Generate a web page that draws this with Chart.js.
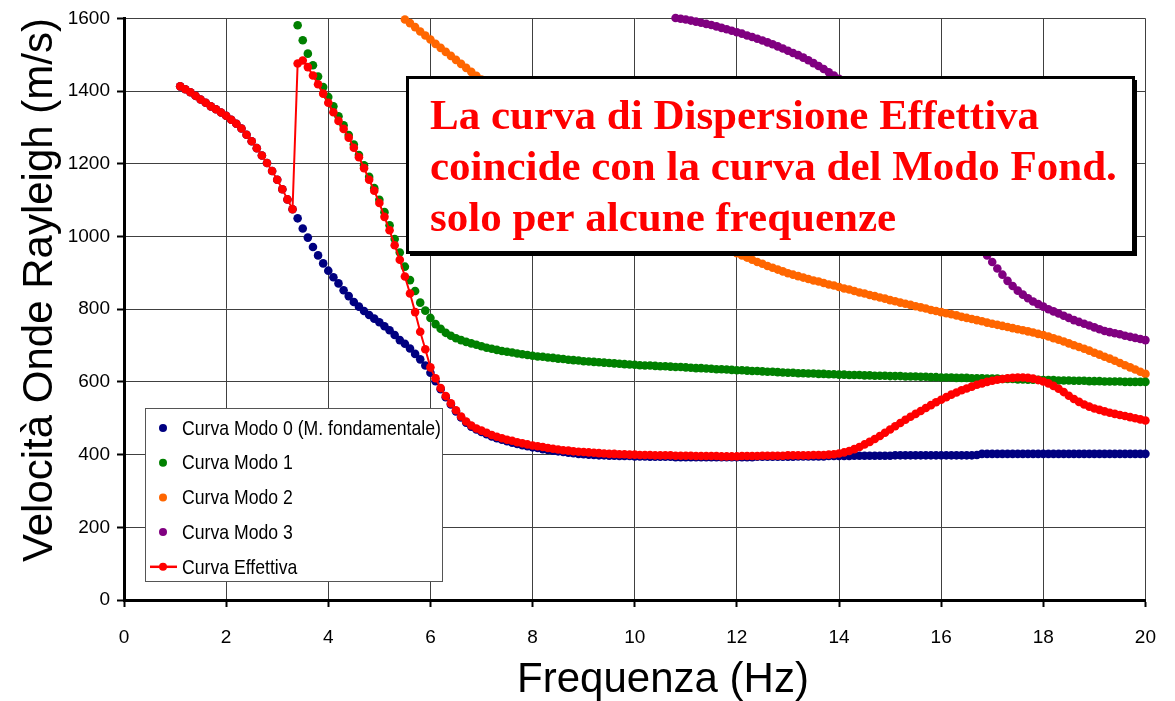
<!DOCTYPE html>
<html lang="it">
<head>
    <meta charset="UTF-8">
    <title>Curve di dispersione</title>
    <script src="https://cdn.jsdelivr.net/npm/chart.js"></script>
    <style>
        html, body { margin: 0; padding: 0; background: #fff; }
        #wrap { width: 1175px; height: 701px; }
    </style>
</head>
<body>
    <div id="wrap"><canvas id="dispChart" width="1175" height="701"></canvas></div>

    <script>
        // frequenze (Hz), passo 0.1
        const freq = [
            1.1, 1.2, 1.3, 1.4, 1.5, 1.6, 1.7, 1.8, 1.9, 2.0,
            2.1, 2.2, 2.3, 2.4, 2.5, 2.6, 2.7, 2.8, 2.9, 3.0,
            3.1, 3.2, 3.3, 3.4, 3.5, 3.6, 3.7, 3.8, 3.9, 4.0,
            4.1, 4.2, 4.3, 4.4, 4.5, 4.6, 4.7, 4.8, 4.9, 5.0,
            5.1, 5.2, 5.3, 5.4, 5.5, 5.6, 5.7, 5.8, 5.9, 6.0,
            6.1, 6.2, 6.3, 6.4, 6.5, 6.6, 6.7, 6.8, 6.9, 7.0,
            7.1, 7.2, 7.3, 7.4, 7.5, 7.6, 7.7, 7.8, 7.9, 8.0,
            8.1, 8.2, 8.3, 8.4, 8.5, 8.6, 8.7, 8.8, 8.9, 9.0,
            9.1, 9.2, 9.3, 9.4, 9.5, 9.6, 9.7, 9.8, 9.9, 10.0,
            10.1, 10.2, 10.3, 10.4, 10.5, 10.6, 10.7, 10.8, 10.9, 11.0,
            11.1, 11.2, 11.3, 11.4, 11.5, 11.6, 11.7, 11.8, 11.9, 12.0,
            12.1, 12.2, 12.3, 12.4, 12.5, 12.6, 12.7, 12.8, 12.9, 13.0,
            13.1, 13.2, 13.3, 13.4, 13.5, 13.6, 13.7, 13.8, 13.9, 14.0,
            14.1, 14.2, 14.3, 14.4, 14.5, 14.6, 14.7, 14.8, 14.9, 15.0,
            15.1, 15.2, 15.3, 15.4, 15.5, 15.6, 15.7, 15.8, 15.9, 16.0,
            16.1, 16.2, 16.3, 16.4, 16.5, 16.6, 16.7, 16.8, 16.9, 17.0,
            17.1, 17.2, 17.3, 17.4, 17.5, 17.6, 17.7, 17.8, 17.9, 18.0,
            18.1, 18.2, 18.3, 18.4, 18.5, 18.6, 18.7, 18.8, 18.9, 19.0,
            19.1, 19.2, 19.3, 19.4, 19.5, 19.6, 19.7, 19.8, 19.9, 20.0
        ];

        // Modo 0 (fondamentale), da 1.1 Hz
        const modo0 = [
            1413, 1405, 1397, 1387, 1377, 1368, 1358, 1350, 1341, 1332,
            1321, 1310, 1297, 1280, 1262, 1243, 1223, 1202, 1180, 1156,
            1130, 1102, 1075, 1050, 1022, 997, 971, 948, 926, 906,
            888, 871, 852, 836, 820, 807, 795, 784, 774, 764,
            753, 742, 729, 715, 705, 692, 677, 662, 645, 625,
            602, 580, 558, 538, 519, 502, 488, 477, 469, 462,
            456, 450, 445, 441, 437, 433, 429, 426, 423, 420,
            418, 415, 413, 411, 409, 407, 405, 404, 402, 401,
            400, 399, 398, 398, 397, 397, 396, 396, 396, 395,
            395, 395, 394, 394, 394, 394, 394, 393, 393, 393,
            393, 393, 393, 393, 393, 393, 393, 393, 393, 393,
            393, 393, 393, 394, 394, 394, 394, 394, 394, 394,
            394, 395, 395, 395, 395, 395, 395, 396, 396, 396,
            396, 396, 397, 397, 397, 397, 397, 397, 397, 397,
            398, 398, 398, 398, 398, 398, 398, 398, 398, 398,
            398, 398, 398, 398, 398, 398, 399, 402, 402, 402,
            402, 402, 402, 402, 402, 402, 402, 402, 402, 402,
            402, 402, 402, 402, 402, 402, 402, 402, 402, 402,
            402, 402, 402, 402, 402, 402, 402, 402, 402, 402
        ];

        // Modo 1, da 3.4 Hz
        const modo1 = [
            1581, 1540, 1503, 1471, 1440, 1411, 1384,
            1358, 1331, 1306, 1279, 1253, 1224, 1196, 1164, 1133, 1101,
            1067, 1031, 993, 956, 917, 880, 850, 818, 796, 776,
            759, 746, 735, 727, 720, 715, 710, 706, 702, 698,
            694, 691, 688, 685, 683, 681, 678, 676, 674, 672,
            670, 669, 667, 666, 664, 663, 661, 660, 659, 657,
            656, 655, 654, 653, 652, 651, 650, 649, 648, 647,
            646, 645, 645, 644, 643, 643, 642, 641, 641, 640,
            639, 638, 638, 637, 636, 635, 635, 634, 633, 632,
            632, 631, 630, 630, 629, 628, 628, 627, 626, 625,
            625, 624, 624, 623, 623, 622, 622, 621, 621, 620,
            620, 619, 619, 619, 618, 618, 617, 617, 617, 616,
            616, 616, 615, 615, 615, 614, 614, 613, 613, 612,
            612, 612, 611, 611, 611, 610, 610, 610, 609, 609,
            609, 608, 608, 608, 607, 607, 606, 606, 606, 605,
            605, 605, 604, 604, 604, 603, 603, 603, 602, 602,
            602, 601, 601, 601, 601, 600, 600, 600, 600, 600
        ];

        // Modo 2, da 5.5 Hz
        const modo2 = [
            1597, 1587, 1576, 1564, 1553, 1542,
            1530, 1519, 1508, 1497, 1486, 1475, 1464, 1453, 1442, 1432,
            1421, 1410, 1399, 1388, 1377, 1366, 1356, 1345, 1335, 1325,
            1314, 1304, 1293, 1283, 1273, 1263, 1253, 1243, 1232, 1222,
            1212, 1202, 1192, 1182, 1173, 1163, 1154, 1144, 1135, 1125,
            1116, 1107, 1098, 1089, 1080, 1071, 1062, 1053, 1044, 1035,
            1027, 1018, 1010, 1001, 993, 985, 977, 969, 962, 954,
            948, 942, 936, 930, 925, 919, 914, 909, 904, 899,
            895, 891, 887, 883, 879, 876, 872, 868, 865, 861,
            857, 854, 850, 846, 843, 839, 836, 832, 829, 825,
            822, 818, 815, 812, 808, 805, 802, 798, 795, 792,
            789, 786, 783, 779, 776, 773, 770, 767, 763, 760,
            757, 754, 751, 748, 745, 742, 739, 736, 732, 729,
            725, 720, 716, 711, 706, 701, 696, 691, 686, 680,
            675, 669, 664, 658, 652, 646, 640, 634, 628, 622
        ];

        // Modo 3, da 10.8 Hz
        const modo3 = [
            1601, 1599, 1597,
            1594, 1591, 1588, 1585, 1582, 1578, 1574, 1570, 1566, 1562,
            1558, 1553, 1549, 1544, 1539, 1534, 1529, 1523, 1517, 1511,
            1505, 1499, 1492, 1485, 1477, 1469, 1461, 1452, 1443, 1434,
            1424, 1414, 1404, 1393, 1382, 1370, 1358, 1346, 1333, 1320,
            1306, 1291, 1276, 1261, 1245, 1227, 1209, 1190, 1170, 1150,
            1129, 1108, 1087, 1066, 1045, 1022, 998, 972, 948, 930,
            912, 895, 878, 864, 851, 840, 830, 821, 814, 807,
            800, 794, 788, 782, 776, 770, 765, 760, 755, 750,
            745, 740, 737, 734, 731, 727, 724, 721, 718, 715
        ];

        // Curva effettiva, da 1.1 Hz
        const effettiva = [
            1413, 1405, 1397, 1387, 1377, 1368, 1358, 1350, 1341, 1332,
            1321, 1310, 1297, 1280, 1262, 1243, 1223, 1202, 1180, 1156,
            1130, 1102, 1075, 1476, 1484, 1466, 1443, 1419, 1393, 1368,
            1342, 1318, 1296, 1272, 1244, 1218, 1188, 1156, 1126, 1092,
            1054, 1017, 976, 936, 890, 843, 792, 738, 690, 640,
            610, 583, 561, 541, 522, 505, 491, 480, 472, 466,
            460, 454, 449, 445, 441, 438, 434, 431, 428, 425,
            423, 421, 418, 416, 414, 412, 411, 409, 408, 407,
            406, 405, 404, 403, 402, 402, 401, 401, 400, 400,
            399, 399, 399, 398, 398, 398, 398, 397, 397, 397,
            397, 396, 396, 396, 396, 396, 395, 395, 395, 395,
            396, 396, 396, 396, 397, 397, 397, 397, 397, 398,
            398, 398, 398, 398, 399, 399, 399, 400, 401, 403,
            406, 410, 415, 421, 428, 435, 443, 451, 460, 469,
            478, 487, 496, 504, 512, 520, 528, 536, 544, 551,
            558, 565, 571, 577, 582, 587, 592, 596, 600, 603,
            606, 608, 610, 611, 612, 612, 611, 609, 605, 601,
            596, 589, 581, 572, 562, 553, 545, 538, 532, 527,
            523, 519, 515, 512, 509, 506, 503, 500, 497, 494
        ];

        const seriesNames = ['Curva Modo 0 (M. fondamentale)', 'Curva Modo 1', 'Curva Modo 2', 'Curva Modo 3', 'Curva Effettiva'];
        const seriesColors = ['#000080', '#008000', '#FF6600', '#800080', '#FF0000'];
        const seriesStart = [1.1, 3.4, 5.5, 10.8, 1.1];
        const seriesValues = [modo0, modo1, modo2, modo3, effettiva];

        const noteLines = ['La curva di Dispersione Effettiva', 'coincide con la curva del Modo Fond.', 'solo per alcune frequenze'];

        const sans = '"Liberation Sans", Arial, sans-serif';

        function toPoints(values, start) {
            const i0 = freq.indexOf(start);
            return values.map((v, i) => ({ x: freq[i0 + i], y: v }));
        }

        const datasets = seriesValues.map((vals, k) => ({
            label: seriesNames[k],
            data: toPoints(vals, seriesStart[k]),
            showLine: k === 4,
            borderColor: seriesColors[k],
            backgroundColor: seriesColors[k],
            borderWidth: 2,
            pointRadius: 4.3,
            pointBorderWidth: 0,
            pointBackgroundColor: seriesColors[k],
            clip: false,
            order: k === 4 ? 0 : k + 1
        }));

        // legenda, riquadro di testo e titoli degli assi disegnati sul canvas
        const overlay = {
            id: 'overlay',
            afterDraw(chart) {
                const ctx = chart.ctx;
                ctx.save();

                // legenda (testo compresso come Arial Narrow)
                ctx.fillStyle = '#fff';
                ctx.fillRect(145, 408, 297, 173);
                ctx.strokeStyle = '#555';
                ctx.lineWidth = 1;
                ctx.strokeRect(145.5, 408.5, 297, 173);
                ctx.font = '21px ' + sans;
                ctx.textBaseline = 'middle';
                ctx.textAlign = 'left';
                seriesNames.forEach((name, k) => {
                    const y = 428 + k * 34.7;
                    if (k === 4) {
                        ctx.strokeStyle = seriesColors[k];
                        ctx.lineWidth = 2.5;
                        ctx.beginPath();
                        ctx.moveTo(150, y);
                        ctx.lineTo(177, y);
                        ctx.stroke();
                    }
                    ctx.fillStyle = seriesColors[k];
                    ctx.beginPath();
                    ctx.arc(163, y, 4, 0, Math.PI * 2);
                    ctx.fill();
                    ctx.fillStyle = '#000';
                    ctx.save();
                    ctx.translate(182, y + 1);
                    ctx.scale(0.84, 1);
                    ctx.fillText(name, 0, 0);
                    ctx.restore();
                });

                // riquadro note
                ctx.fillStyle = '#000';
                ctx.fillRect(410, 80, 727, 176);
                ctx.fillStyle = '#fff';
                ctx.fillRect(407, 77, 727, 176);
                ctx.strokeStyle = '#000';
                ctx.lineWidth = 3;
                ctx.strokeRect(407.5, 77.5, 726, 175);
                ctx.fillStyle = '#FF0000';
                ctx.font = 'bold 43px "Liberation Serif", "Times New Roman", serif';
                ctx.textBaseline = 'alphabetic';
                noteLines.forEach((line, i) => {
                    ctx.fillText(line, 430, 129 + i * 51);
                });

                // titoli assi
                ctx.fillStyle = '#000';
                ctx.font = '42px ' + sans;
                ctx.textAlign = 'center';
                ctx.textBaseline = 'middle';
                ctx.fillText('Frequenza (Hz)', 663, 680);
                ctx.translate(40, 290);
                ctx.rotate(-Math.PI / 2);
                ctx.fillText('Velocità Onde Rayleigh (m/s)', 0, 0);

                ctx.restore();
            }
        };

        const ctx = document.getElementById('dispChart').getContext('2d');
        new Chart(ctx, {
            type: 'scatter',
            data: { datasets: datasets },
            options: {
                responsive: false,
                animation: false,
                layout: { padding: { top: 18, right: 28, left: 0, bottom: 0 } },
                plugins: {
                    legend: { display: false },
                    tooltip: { enabled: false }
                },
                scales: {
                    x: {
                        type: 'linear',
                        min: 0,
                        max: 20,
                        ticks: { stepSize: 2, color: '#000', font: { family: sans, size: 19 }, padding: 19, maxRotation: 0, callback: v => String(v) },
                        grid: { color: '#404040', lineWidth: 1, tickColor: '#000', tickLength: 7, tickWidth: 2 },
                        border: { color: '#000', width: 3 },
                        afterFit: s => { s.height = 101; }
                    },
                    y: {
                        min: 0,
                        max: 1600,
                        ticks: { stepSize: 200, color: '#000', font: { family: sans, size: 19 }, padding: 7, callback: v => String(v) },
                        grid: { color: '#404040', lineWidth: 1, tickColor: '#000', tickLength: 7, tickWidth: 2 },
                        border: { color: '#000', width: 3 },
                        afterFit: s => { s.width = 124; }
                    }
                }
            },
            plugins: [overlay]
        });
    </script>
</body>
</html>
